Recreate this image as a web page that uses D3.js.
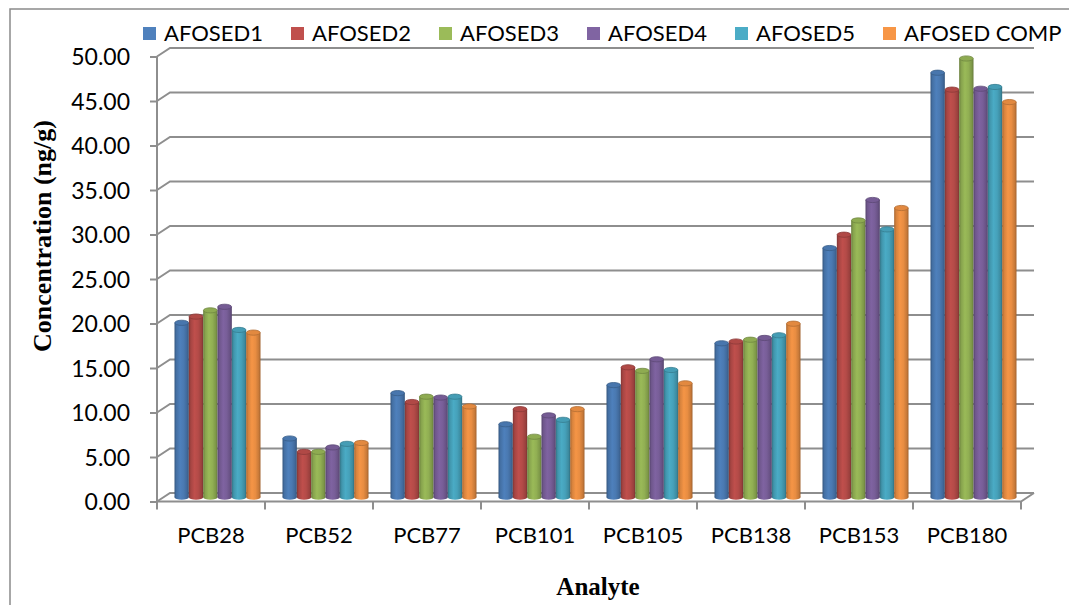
<!DOCTYPE html>
<html>
<head>
<meta charset="utf-8">
<script src="https://cdn.jsdelivr.net/npm/d3@7/dist/d3.min.js"></script>
<style>
  html, body { margin: 0; padding: 0; background: #fff; }
  svg { display: block; }
</style>
</head>
<body>
<svg id="chart" width="1069" height="605"></svg>
<script>
// PCB concentrations (ng/g) per analyte for each sediment sample
const categories = ["PCB28", "PCB52", "PCB77", "PCB101", "PCB105", "PCB138", "PCB153", "PCB180"];
const seriesNames = ["AFOSED1", "AFOSED2", "AFOSED3", "AFOSED4", "AFOSED5", "AFOSED COMP"];
const afosed1    = [19.6, 6.6, 11.7, 8.2, 12.6, 17.3, 28.0, 47.7];
const afosed2    = [20.3, 5.1, 10.7, 9.9, 14.6, 17.5, 29.5, 45.8];
const afosed3    = [21.0, 5.1, 11.3, 6.8, 14.2, 17.7, 31.1, 49.3];
const afosed4    = [21.4, 5.6, 11.2, 9.2, 15.5, 17.9, 33.4, 45.9];
const afosed5    = [18.8, 6.0, 11.3, 8.7, 14.3, 18.2, 30.1, 46.1];
const afosedComp = [18.5, 6.1, 10.2, 9.9, 12.8, 19.5, 32.5, 44.4];
const seriesColors = ["#4F81BD", "#C0504D", "#9BBB59", "#8064A2", "#4BACC6", "#F79646"];
const yTickValues = [0, 5, 10, 15, 20, 25, 30, 35, 40, 45, 50];

const seriesValues = [afosed1, afosed2, afosed3, afosed4, afosed5, afosedComp];
const rows = [];
categories.forEach((c, i) => {
  seriesNames.forEach((s, j) => rows.push({ cat: c, series: s, si: j, value: seriesValues[j][i] }));
});

const svg = d3.select("#chart");
const gridColor = "#8e8e8e";
const labelFont = "Lato, 'Open Sans', sans-serif";
const titleFont = "'Liberation Serif', 'Times New Roman', serif";

// 3-D wall depth offsets
const depthX = 13, depthY = -8.5;
const midX = depthX / 2, midY = depthY / 2;

const x0 = 157, x1 = 1021;
const y = d3.scaleLinear().domain([0, 50]).range([501.5, 56.5]);
const x = d3.scaleBand().domain(categories).range([x0, x1]).paddingInner(0).paddingOuter(0);
const groupWidth = 86;
const xs = d3.scaleBand().domain(seriesNames).range([-groupWidth / 2, groupWidth / 2]).padding(0);

// chart frame
svg.append("rect")
  .attr("x", 10).attr("y", 9).attr("width", 1100).attr("height", 640)
  .attr("fill", "none").attr("stroke", "#8a8a8a").attr("stroke-width", 1.5);

// back-wall gridlines with their diagonal joins to the front axis
const grid = svg.append("g").attr("stroke", gridColor).attr("stroke-width", 2).attr("fill", "none");
yTickValues.forEach(v => {
  const yf = y(v);
  grid.append("path")
    .attr("d", `M${x0},${yf}L${x0 + depthX},${yf + depthY}L${x1 + depthX},${yf + depthY}`);
});
// floor: front edge and right side
grid.append("path")
  .attr("d", `M${x0},${y(0)}L${x1},${y(0)}L${x1 + depthX},${y(0) + depthY}`);

// y axis line + ticks + labels
const yAxis = d3.axisLeft(y).tickValues(yTickValues).tickFormat(d3.format(".2f")).tickSize(7).tickPadding(20);
const gy = svg.append("g").attr("transform", `translate(${x0},0)`).call(yAxis);
gy.select(".domain").attr("stroke", gridColor).attr("stroke-width", 2).attr("d", `M0,${y(50)}V${y(0)}`);
gy.selectAll(".tick line").attr("stroke", gridColor).attr("stroke-width", 2);
gy.selectAll(".tick text")
  .attr("font-family", labelFont).attr("font-size", 23).attr("fill", "#000").attr("dy", "0.35em");

// category axis: labels at band centres, ticks at band boundaries
const xAxis = d3.axisBottom(x).tickSize(0).tickPadding(26);
const gx = svg.append("g").attr("transform", `translate(0,${y(0)})`).call(xAxis);
gx.select(".domain").remove();
gx.selectAll(".tick text").attr("font-family", labelFont).attr("font-size", 22).attr("fill", "#000");
const bounds = categories.map(c => x(c)).concat([x1]);
svg.append("g").selectAll("line").data(bounds).join("line")
  .attr("x1", d => d).attr("x2", d => d)
  .attr("y1", y(0)).attr("y2", y(0) + 8)
  .attr("stroke", gridColor).attr("stroke-width", 2);

// cylinder shading gradients
const defs = svg.append("defs");
seriesColors.forEach((col, j) => {
  const c = d3.color(col);
  const g = defs.append("linearGradient").attr("id", "cyl" + j)
    .attr("x1", "0%").attr("x2", "100%").attr("y1", "0%").attr("y2", "0%");
  [[0, c.darker(1.1)], [0.14, c.darker(0.4)], [0.4, c.darker(0.02)], [0.65, c.darker(0.18)], [0.88, c.darker(0.6)], [1, c.darker(1.2)]]
    .forEach(([o, cc]) => g.append("stop").attr("offset", o).attr("stop-color", cc.formatHex()));
});

// bars as cylinders standing on the middle of the floor
const ry = 2.6;
const bars = svg.append("g").selectAll("g").data(rows).join("g")
  .attr("transform", d => `translate(${x(d.cat) + x.bandwidth() / 2 + xs(d.series) + midX},${midY})`);
const bw = xs.bandwidth();
bars.append("ellipse")
  .attr("cx", bw / 2).attr("cy", y(0)).attr("rx", bw / 2).attr("ry", ry)
  .attr("fill", d => `url(#cyl${d.si})`);
bars.append("rect")
  .attr("x", 0).attr("width", bw)
  .attr("y", d => y(d.value)).attr("height", d => y(0) - y(d.value))
  .attr("fill", d => `url(#cyl${d.si})`);
bars.append("ellipse")
  .attr("cx", bw / 2).attr("cy", d => y(d.value)).attr("rx", bw / 2 - 0.3).attr("ry", ry)
  .attr("fill", d => d3.color(seriesColors[d.si]).darker(0.25).formatHex())
  .attr("stroke", d => d3.color(seriesColors[d.si]).darker(0.9).formatHex())
  .attr("stroke-width", 0.8);

// legend
const legend = svg.append("g").selectAll("g").data(seriesNames).join("g")
  .attr("transform", (d, i) => `translate(${143 + i * 148},27)`);
legend.append("rect").attr("width", 13).attr("height", 13)
  .attr("fill", (d, i) => seriesColors[i]);
legend.append("text").attr("x", 21).attr("y", 14)
  .attr("font-family", labelFont).attr("font-size", 22).attr("fill", "#000")
  .text(d => d);

// axis titles
svg.append("text")
  .attr("transform", "translate(51,236) rotate(-90)")
  .attr("text-anchor", "middle")
  .attr("font-family", titleFont).attr("font-weight", "bold").attr("font-size", 26).attr("fill", "#000")
  .text("Concentration (ng/g)");
svg.append("text")
  .attr("x", 598).attr("y", 595)
  .attr("text-anchor", "middle")
  .attr("font-family", titleFont).attr("font-weight", "bold").attr("font-size", 25).attr("fill", "#000")
  .text("Analyte");
</script>
</body>
</html>
